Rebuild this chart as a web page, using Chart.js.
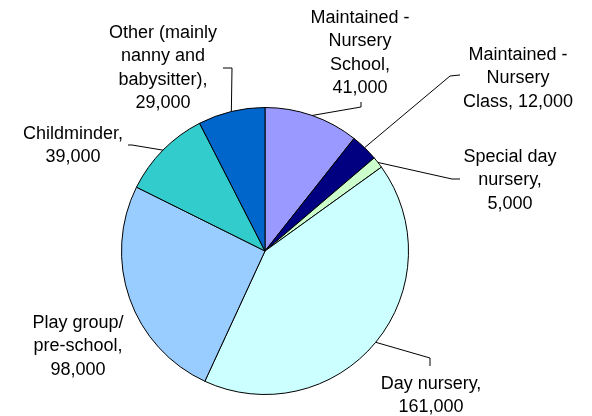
<!DOCTYPE html>
<html>
<head>
<meta charset="utf-8">
<script src="https://cdn.jsdelivr.net/npm/chart.js@4/dist/chart.umd.min.js"></script>
<style>
  html, body { margin: 0; padding: 0; background: #fff; }
  #wrap { width: 592px; height: 416px; position: relative; }
</style>
</head>
<body>
<div id="wrap"><canvas id="grafico"></canvas></div>
<script>
// data
const categorias = [
  "Maintained - Nursery School",
  "Maintained - Nursery Class",
  "Special day nursery",
  "Day nursery",
  "Play group/ pre-school",
  "Childminder",
  "Other (mainly nanny and babysitter)"
];
const valores = [41000, 12000, 5000, 161000, 98000, 39000, 29000];
const rotulos = [
  ["Maintained -", "Nursery", "School,", "41,000"],
  ["Maintained -", "Nursery", "Class, 12,000"],
  ["Special day", "nursery,", "5,000"],
  ["Day nursery,", "161,000"],
  ["Play group/", "pre-school,", "98,000"],
  ["Childminder,", "39,000"],
  ["Other (mainly", "nanny and", "babysitter),", "29,000"]
];
const cores = ["#9999FF", "#000080", "#CCFFCC", "#CCFFFF", "#99CCFF", "#33CCCC", "#0066CC"];

// where each label sits (text centre x, first line y) and its leader bends
const posRotulo = [
  { x: 360, y: 18, guia: [[361, 107], [361, 102]] },
  { x: 518, y: 55, guia: [[450, 76], [460, 75]] },
  { x: 510, y: 157, guia: [[452, 179], [460, 179]] },
  { x: 431, y: 384, guia: [[430, 358], [430, 366]] },
  { x: 78, y: 323, guia: null },
  { x: 73, y: 134, guia: [[132, 145], [128, 145]] },
  { x: 163, y: 33, guia: [[232, 68], [223, 68]] }
];

const rotulosPlugin = {
  id: "rotulos",
  afterDatasetsDraw(chart) {
    const ctx = chart.ctx;
    const arcos = chart.getDatasetMeta(0).data;
    ctx.save();
    ctx.font = "18px 'Liberation Sans', Arial, sans-serif";
    ctx.fillStyle = "#000";
    ctx.textAlign = "center";
    ctx.textBaseline = "middle";
    for (let i = 0; i < arcos.length; i++) {
      const a = arcos[i];
      const meio = (a.startAngle + a.endAngle) / 2;
      const p = posRotulo[i];
      if (p.guia) {
        //leader starts on the rim, at the slice's middle
        ctx.beginPath();
        ctx.moveTo(a.x + Math.cos(meio) * a.outerRadius, a.y + Math.sin(meio) * a.outerRadius);
        p.guia.forEach(pt => ctx.lineTo(pt[0], pt[1]));
        ctx.strokeStyle = "#000";
        ctx.lineWidth = 1;
        ctx.stroke();
      }
      rotulos[i].forEach((linha, j) => {
        ctx.fillText(linha, p.x, p.y + j * 23.5);
      });
    }
    ctx.restore();
  }
};

new Chart(document.getElementById("grafico"), {
  type: "pie",
  data: {
    labels: categorias,
    datasets: [{
      data: valores,
      backgroundColor: cores,
      borderColor: "#000",
      borderWidth: 1
    }]
  },
  options: {
    responsive: true,
    maintainAspectRatio: false,
    animation: false,
    layout: { padding: { top: 107, bottom: 21, left: 121, right: 183 } },
    plugins: {
      legend: { display: false },
      tooltip: { enabled: false }
    }
  },
  plugins: [rotulosPlugin]
});
</script>
</body>
</html>
